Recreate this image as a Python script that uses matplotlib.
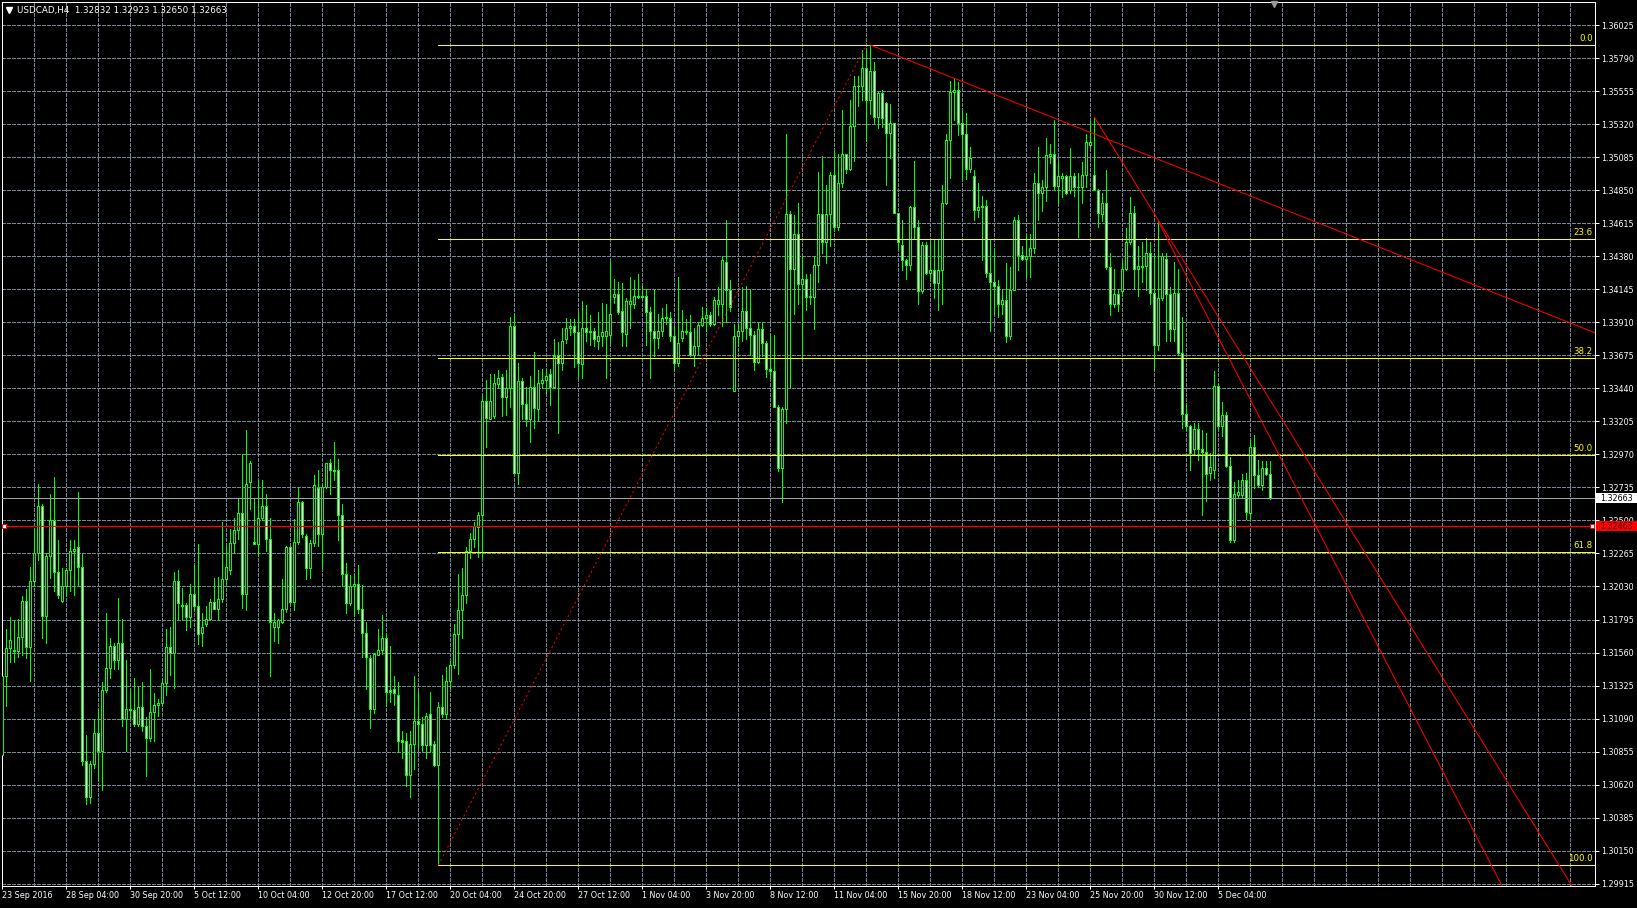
import numpy as np
import matplotlib
matplotlib.use("Agg")
import matplotlib.pyplot as plt
from matplotlib.transforms import blended_transform_factory
from matplotlib.patches import Rectangle
from matplotlib.lines import Line2D

# ---------------- data ----------------
symbol = "USDCAD,H4"

open_ = [
    1.3083, 1.3139, 1.3159, 1.3158, 1.3157, 1.3167, 1.3193, 1.3160, 1.3207, 1.3227,
    1.3260, 1.3182, 1.3225, 1.3250, 1.3213, 1.3193, 1.3203, 1.3215, 1.3228, 1.3231,
    1.3217, 1.3079, 1.3053, 1.3077, 1.3099, 1.3086, 1.3129, 1.3145, 1.3161, 1.3151,
    1.3163, 1.3109, 1.3116, 1.3115, 1.3105, 1.3117, 1.3104, 1.3095, 1.3114, 1.3119,
    1.3120, 1.3134, 1.3160, 1.3156, 1.3207, 1.3190, 1.3190, 1.3181, 1.3198, 1.3189,
    1.3170, 1.3176, 1.3180, 1.3192, 1.3187, 1.3194, 1.3208, 1.3215, 1.3234, 1.3243,
    1.3255, 1.3198, 1.3277, 1.3235, 1.3233, 1.3252, 1.3260, 1.3237, 1.3174, 1.3174,
    1.3178, 1.3187, 1.3231, 1.3192, 1.3235, 1.3263, 1.3239, 1.3216, 1.3234, 1.3273,
    1.3240, 1.3274, 1.3291, 1.3286, 1.3286, 1.3254, 1.3212, 1.3191, 1.3203, 1.3205,
    1.3187, 1.3170, 1.3152, 1.3116, 1.3154, 1.3158, 1.3166, 1.3129, 1.3130, 1.3126,
    1.3094, 1.3093, 1.3069, 1.3091, 1.3107, 1.3105, 1.3090, 1.3112, 1.3091, 1.3076,
    1.3117, 1.3112, 1.3136, 1.3147, 1.3169, 1.3186, 1.3197, 1.3228, 1.3237, 1.3245,
    1.3254, 1.3335, 1.3322, 1.3324, 1.3347, 1.3352, 1.3338, 1.3344, 1.3388, 1.3284,
    1.3349, 1.3333, 1.3322, 1.3345, 1.3329, 1.3348, 1.3350, 1.3354, 1.3345, 1.3368,
    1.3362, 1.3379, 1.3387, 1.3388, 1.3384, 1.3361, 1.3387, 1.3385, 1.3385, 1.3378,
    1.3381, 1.3381, 1.3382, 1.3409, 1.3411, 1.3399, 1.3383, 1.3404, 1.3404, 1.3410,
    1.3409, 1.3410, 1.3398, 1.3385, 1.3380, 1.3385, 1.3394, 1.3394, 1.3381, 1.3362,
    1.3380, 1.3384, 1.3384, 1.3368, 1.3374, 1.3389, 1.3394, 1.3396, 1.3390, 1.3404,
    1.3404, 1.3434, 1.3414, 1.3342, 1.3381, 1.3385, 1.3399, 1.3387, 1.3382, 1.3363,
    1.3386, 1.3376, 1.3358, 1.3356, 1.3331, 1.3287, 1.3329, 1.3468, 1.3429, 1.3454,
    1.3418, 1.3422, 1.3409, 1.3409, 1.3432, 1.3468, 1.3448, 1.3468, 1.3496, 1.3459,
    1.3490, 1.3511, 1.3500, 1.3531, 1.3559, 1.3559, 1.3572, 1.3549, 1.3570, 1.3537,
    1.3554, 1.3547, 1.3526, 1.3533, 1.3469, 1.3446, 1.3435, 1.3432, 1.3473, 1.3459,
    1.3413, 1.3446, 1.3426, 1.3428, 1.3419, 1.3428, 1.3476, 1.3521, 1.3555, 1.3556,
    1.3533, 1.3525, 1.3500, 1.3495, 1.3471, 1.3473, 1.3474, 1.3426, 1.3420, 1.3417,
    1.3404, 1.3407, 1.3381, 1.3414, 1.3464, 1.3439, 1.3436, 1.3438, 1.3444, 1.3490,
    1.3483, 1.3487, 1.3509, 1.3511, 1.3488, 1.3494, 1.3495, 1.3485, 1.3495, 1.3487,
    1.3487, 1.3496, 1.3517, 1.3496, 1.3485, 1.3468, 1.3476, 1.3430, 1.3404, 1.3411,
    1.3413, 1.3429, 1.3448, 1.3469, 1.3429, 1.3430, 1.3431, 1.3440, 1.3412, 1.3375,
    1.3408, 1.3436, 1.3411, 1.3386, 1.3412, 1.3369, 1.3326, 1.3317, 1.3301, 1.3315,
    1.3301, 1.3299, 1.3284, 1.3286, 1.3346, 1.3317, 1.3325, 1.3289, 1.3236, 1.3268,
    1.3268, 1.3279, 1.3255, 1.3302, 1.3282, 1.3275, 1.3287, 1.32832,
]

high = [
    1.3144, 1.3173, 1.3181, 1.3179, 1.3180, 1.3196, 1.3201, 1.3217, 1.3244, 1.3276,
    1.3262, 1.3227, 1.3269, 1.3281, 1.3236, 1.3216, 1.3216, 1.3236, 1.3236, 1.3270,
    1.3226, 1.3097, 1.3079, 1.3109, 1.3116, 1.3135, 1.3184, 1.3166, 1.3163, 1.3195,
    1.3180, 1.3151, 1.3129, 1.3138, 1.3132, 1.3135, 1.3110, 1.3144, 1.3127, 1.3123,
    1.3137, 1.3173, 1.3174, 1.3213, 1.3215, 1.3202, 1.3191, 1.3205, 1.3218, 1.3233,
    1.3184, 1.3189, 1.3194, 1.3209, 1.3210, 1.3249, 1.3232, 1.3244, 1.3252, 1.3265,
    1.3297, 1.3314, 1.3292, 1.3265, 1.3279, 1.3279, 1.3269, 1.3252, 1.3184, 1.3180,
    1.3208, 1.3232, 1.3232, 1.3251, 1.3273, 1.3264, 1.3240, 1.3236, 1.3282, 1.3286,
    1.3275, 1.3291, 1.3294, 1.3306, 1.3294, 1.3262, 1.3220, 1.3211, 1.3212, 1.3218,
    1.3204, 1.3178, 1.3154, 1.3156, 1.3173, 1.3183, 1.3170, 1.3161, 1.3139, 1.3135,
    1.3100, 1.3099, 1.3100, 1.3139, 1.3128, 1.3110, 1.3113, 1.3128, 1.3093, 1.3121,
    1.3140, 1.3146, 1.3150, 1.3176, 1.3212, 1.3216, 1.3231, 1.3241, 1.3249, 1.3256,
    1.3339, 1.3350, 1.3354, 1.3354, 1.3357, 1.3354, 1.3357, 1.3395, 1.3397, 1.3362,
    1.3351, 1.3345, 1.3353, 1.3370, 1.3357, 1.3358, 1.3357, 1.3358, 1.3379, 1.3377,
    1.3387, 1.3394, 1.3393, 1.3393, 1.3398, 1.3406, 1.3403, 1.3396, 1.3387, 1.3398,
    1.3405, 1.3404, 1.3434, 1.3422, 1.3420, 1.3419, 1.3408, 1.3423, 1.3421, 1.3425,
    1.3417, 1.3415, 1.3402, 1.3414, 1.3397, 1.3401, 1.3404, 1.3398, 1.3388, 1.3423,
    1.3400, 1.3393, 1.3396, 1.3387, 1.3391, 1.3402, 1.3401, 1.3398, 1.3409, 1.3416,
    1.3438, 1.3464, 1.3421, 1.3390, 1.3390, 1.3416, 1.3417, 1.3414, 1.3385, 1.3391,
    1.3391, 1.3378, 1.3383, 1.3382, 1.3332, 1.3331, 1.3525, 1.3470, 1.3467, 1.3476,
    1.3438, 1.3425, 1.3425, 1.3438, 1.3498, 1.3509, 1.3489, 1.3498, 1.3513, 1.3511,
    1.3542, 1.3511, 1.3549, 1.3566, 1.3566, 1.3585, 1.3586, 1.35883, 1.3576, 1.3555,
    1.3556, 1.3548, 1.3546, 1.3533, 1.3469, 1.3464, 1.3436, 1.3474, 1.3506, 1.3464,
    1.3448, 1.3448, 1.3448, 1.3450, 1.3450, 1.3489, 1.3525, 1.3563, 1.3564, 1.3562,
    1.3541, 1.3540, 1.3516, 1.3499, 1.3490, 1.3481, 1.3478, 1.3450, 1.3443, 1.3421,
    1.3415, 1.3433, 1.3430, 1.3466, 1.3467, 1.3445, 1.3454, 1.3454, 1.3497, 1.3516,
    1.3492, 1.3522, 1.3518, 1.3535, 1.3505, 1.3497, 1.3496, 1.3515, 1.3497, 1.3497,
    1.3505, 1.3525, 1.3534, 1.3537, 1.3486, 1.3483, 1.3499, 1.3440, 1.3429, 1.3414,
    1.3435, 1.3458, 1.3480, 1.3474, 1.3445, 1.3448, 1.3451, 1.3448, 1.3440, 1.3463,
    1.3440, 1.3440, 1.3416, 1.3434, 1.3429, 1.3395, 1.3332, 1.3318, 1.3319, 1.3319,
    1.3314, 1.3312, 1.3298, 1.3356, 1.3348, 1.3334, 1.3327, 1.3295, 1.3277, 1.3279,
    1.3283, 1.3284, 1.3307, 1.3311, 1.3293, 1.3292, 1.3292, 1.32923,
]

low = [
    1.3028, 1.3118, 1.3149, 1.3149, 1.3153, 1.3154, 1.3152, 1.3136, 1.3203, 1.3222,
    1.3166, 1.3163, 1.3209, 1.3200, 1.3195, 1.3192, 1.3197, 1.3200, 1.3197, 1.3203,
    1.3076, 1.3048, 1.3049, 1.3074, 1.3065, 1.3058, 1.3128, 1.3138, 1.3144, 1.3144,
    1.3104, 1.3086, 1.3109, 1.3104, 1.3104, 1.3100, 1.3068, 1.3093, 1.3093, 1.3111,
    1.3119, 1.3126, 1.3140, 1.3131, 1.3180, 1.3179, 1.3172, 1.3174, 1.3186, 1.3162,
    1.3161, 1.3175, 1.3179, 1.3187, 1.3180, 1.3192, 1.3205, 1.3212, 1.3227, 1.3237,
    1.3188, 1.3186, 1.3258, 1.3233, 1.3225, 1.3250, 1.3228, 1.3139, 1.3164, 1.3163,
    1.3177, 1.3185, 1.3191, 1.3186, 1.3233, 1.3238, 1.3208, 1.3209, 1.3232, 1.3232,
    1.3216, 1.3273, 1.3269, 1.3279, 1.3236, 1.3203, 1.3184, 1.3190, 1.3182, 1.3184,
    1.3153, 1.3130, 1.3102, 1.3113, 1.3154, 1.3155, 1.3118, 1.3121, 1.3119, 1.3085,
    1.3081, 1.3061, 1.3053, 1.3073, 1.3088, 1.3086, 1.3081, 1.3085, 1.3075, 1.30047,
    1.3110, 1.3109, 1.3131, 1.3145, 1.3141, 1.3166, 1.3191, 1.3223, 1.3231, 1.3224,
    1.3224, 1.3302, 1.3322, 1.3323, 1.3345, 1.3324, 1.3325, 1.3331, 1.3284, 1.3276,
    1.3322, 1.3317, 1.3306, 1.3316, 1.3321, 1.3344, 1.3341, 1.3332, 1.3344, 1.3312,
    1.3357, 1.3376, 1.3382, 1.3359, 1.3351, 1.3351, 1.3378, 1.3375, 1.3374, 1.3372,
    1.3374, 1.3351, 1.3377, 1.3405, 1.3397, 1.3374, 1.3374, 1.3387, 1.3401, 1.3408,
    1.3408, 1.3375, 1.3351, 1.3367, 1.3373, 1.3381, 1.3390, 1.3378, 1.3357, 1.3360,
    1.3378, 1.3383, 1.3367, 1.3360, 1.3368, 1.3388, 1.3385, 1.3388, 1.3389, 1.3396,
    1.3388, 1.3391, 1.3399, 1.3342, 1.3374, 1.3378, 1.3379, 1.3368, 1.3357, 1.3362,
    1.3367, 1.3352, 1.3351, 1.3331, 1.3285, 1.3263, 1.3319, 1.3344, 1.3397, 1.3404,
    1.3366, 1.3400, 1.3404, 1.3386, 1.3420, 1.3440, 1.3433, 1.3445, 1.3456, 1.3457,
    1.3487, 1.3497, 1.3499, 1.3506, 1.3545, 1.3549, 1.3520, 1.3539, 1.3533, 1.3529,
    1.3530, 1.3489, 1.3508, 1.3469, 1.3443, 1.3428, 1.3422, 1.3428, 1.3450, 1.3404,
    1.3412, 1.3425, 1.3421, 1.3408, 1.3400, 1.3404, 1.3475, 1.3494, 1.3535, 1.3524,
    1.3493, 1.3493, 1.3498, 1.3464, 1.3466, 1.3435, 1.3423, 1.3385, 1.3397, 1.3395,
    1.3397, 1.3377, 1.3379, 1.3414, 1.3428, 1.3435, 1.3423, 1.3423, 1.3440, 1.3464,
    1.3470, 1.3477, 1.3504, 1.3485, 1.3476, 1.3480, 1.3482, 1.3483, 1.3481, 1.3452,
    1.3476, 1.3487, 1.3516, 1.3485, 1.3459, 1.3463, 1.3429, 1.3396, 1.3402, 1.3399,
    1.3410, 1.3428, 1.3447, 1.3415, 1.3410, 1.3420, 1.3414, 1.3404, 1.3357, 1.3371,
    1.3407, 1.3378, 1.3378, 1.3378, 1.3368, 1.3316, 1.3314, 1.3286, 1.3298, 1.3293,
    1.3254, 1.3264, 1.3279, 1.3280, 1.3316, 1.3310, 1.3288, 1.3235, 1.3235, 1.3267,
    1.3266, 1.3251, 1.3251, 1.3273, 1.3274, 1.3272, 1.3282, 1.32650,
]

close = [
    1.3139, 1.3159, 1.3165, 1.3157, 1.3167, 1.3193, 1.3160, 1.3207, 1.3227, 1.3260,
    1.3182, 1.3225, 1.3250, 1.3213, 1.3197, 1.3203, 1.3215, 1.3228, 1.3230, 1.3217,
    1.3079, 1.3053, 1.3077, 1.3099, 1.3086, 1.3129, 1.3145, 1.3161, 1.3151, 1.3163,
    1.3109, 1.3116, 1.3115, 1.3105, 1.3117, 1.3104, 1.3095, 1.3114, 1.3119, 1.3120,
    1.3134, 1.3160, 1.3156, 1.3207, 1.3191, 1.3189, 1.3181, 1.3198, 1.3189, 1.3169,
    1.3174, 1.3180, 1.3192, 1.3187, 1.3194, 1.3208, 1.3217, 1.3234, 1.3243, 1.3255,
    1.3198, 1.3276, 1.3291, 1.3233, 1.3252, 1.3260, 1.3237, 1.3178, 1.3178, 1.3179,
    1.3187, 1.3231, 1.3192, 1.3235, 1.3263, 1.3240, 1.3216, 1.3234, 1.3275, 1.3240,
    1.3274, 1.3291, 1.3286, 1.3285, 1.3254, 1.3212, 1.3191, 1.3203, 1.3205, 1.3187,
    1.3170, 1.3153, 1.3116, 1.3155, 1.3158, 1.3166, 1.3128, 1.3128, 1.3127, 1.3093,
    1.3092, 1.3069, 1.3091, 1.3107, 1.3105, 1.3090, 1.3111, 1.3090, 1.3076, 1.3117,
    1.3112, 1.3136, 1.3147, 1.3169, 1.3186, 1.3197, 1.3228, 1.3237, 1.3246, 1.3254,
    1.3335, 1.3323, 1.3335, 1.3348, 1.3351, 1.3338, 1.3344, 1.3388, 1.3284, 1.3349,
    1.3333, 1.3322, 1.3345, 1.3330, 1.3348, 1.3350, 1.3353, 1.3345, 1.3367, 1.3362,
    1.3378, 1.3387, 1.3388, 1.3384, 1.3362, 1.3387, 1.3384, 1.3384, 1.3379, 1.3381,
    1.3384, 1.3385, 1.3397, 1.3411, 1.3398, 1.3384, 1.3406, 1.3406, 1.3410, 1.3409,
    1.3410, 1.3398, 1.3385, 1.3380, 1.3385, 1.3394, 1.3395, 1.3381, 1.3362, 1.3376,
    1.3385, 1.3385, 1.3368, 1.3374, 1.3389, 1.3394, 1.3396, 1.3390, 1.3407, 1.3407,
    1.3435, 1.3414, 1.3402, 1.3381, 1.3385, 1.3399, 1.3387, 1.3382, 1.3363, 1.3386,
    1.3376, 1.3358, 1.3356, 1.3331, 1.3287, 1.3329, 1.3468, 1.3429, 1.3454, 1.3418,
    1.3422, 1.3409, 1.3410, 1.3432, 1.3468, 1.3448, 1.3468, 1.3496, 1.3459, 1.3490,
    1.3511, 1.3500, 1.3531, 1.3559, 1.3559, 1.3572, 1.3549, 1.3570, 1.3537, 1.3554,
    1.3536, 1.3526, 1.3533, 1.3469, 1.3448, 1.3435, 1.3432, 1.3473, 1.3459, 1.3413,
    1.3446, 1.3426, 1.3428, 1.3419, 1.3428, 1.3476, 1.3521, 1.3555, 1.3556, 1.3533,
    1.3525, 1.3500, 1.3508, 1.3471, 1.3473, 1.3474, 1.3426, 1.3420, 1.3417, 1.3404,
    1.3407, 1.3381, 1.3414, 1.3464, 1.3439, 1.3436, 1.3438, 1.3444, 1.3490, 1.3483,
    1.3487, 1.3510, 1.3511, 1.3488, 1.3495, 1.3495, 1.3483, 1.3495, 1.3487, 1.3487,
    1.3496, 1.3519, 1.3519, 1.3485, 1.3469, 1.3476, 1.3430, 1.3404, 1.3411, 1.3404,
    1.3429, 1.3448, 1.3469, 1.3429, 1.3431, 1.3431, 1.3440, 1.3412, 1.3375, 1.3408,
    1.3438, 1.3411, 1.3386, 1.3412, 1.3369, 1.3326, 1.3317, 1.3298, 1.3315, 1.3301,
    1.3299, 1.3283, 1.3288, 1.3346, 1.3317, 1.3325, 1.3289, 1.3236, 1.3269, 1.3270,
    1.3279, 1.3256, 1.3302, 1.3282, 1.3275, 1.3287, 1.3283, 1.32663,
]

date_labels = [
    "23 Sep 2016", "28 Sep 04:00", "30 Sep 20:00", "5 Oct 12:00", "10 Oct 04:00",
    "12 Oct 20:00", "17 Oct 12:00", "20 Oct 04:00", "24 Oct 20:00", "27 Oct 12:00",
    "1 Nov 04:00", "3 Nov 20:00", "8 Nov 12:00", "11 Nov 04:00", "15 Nov 20:00",
    "18 Nov 12:00", "23 Nov 04:00", "25 Nov 20:00", "30 Nov 12:00", "5 Dec 04:00",
]
label_every = 16          # bars between date labels
grid_every = 8            # bars between vertical grid lines

price_tick_first = 1.29915
price_tick_step = 0.00235
price_tick_count = 27
price_min, price_max = 1.29901, 1.36191

# Fibonacci retracement anchors (bar index, price)
fib_low_bar, fib_low = 109, 1.30047
fib_high_bar, fib_high = 216, 1.35883
fib_levels = [0.0, 23.6, 38.2, 50.0, 61.8, 100.0]

# trend line rays: two anchor points each (bar index, price)
trend_lines = [
    ((217, 1.35883), (263, 1.35363)),
    ((273, 1.35370), (289, 1.34637)),
    ((289, 1.34626), (319.4, 1.32954)),
]

hline_price = 1.32463     # red horizontal line
bid_price = 1.32663       # current bid

# ---------------- style / geometry ----------------
W, H, DPI = 1637, 908, 100
PX = 72.0 / DPI            # one pixel in points
GREEN = "#00FF00"
YELLOW = "#FFFF00"
RED = "#FF0000"
GRIDC = "#778899"
BIDC = "#9AA3AD"
FS = 5.8

plt.rcParams["font.family"] = ["DejaVu Sans"]

o = np.array(open_)
hi = np.array(high)
lo = np.array(low)
c = np.array(close)
n = len(c)
xb = np.arange(n)

ax_left, ax_top, ax_right, ax_bottom = 1.7, 1.7, 1594.7, 885.7   # plot frame in pixels
bar_px, first_bar_px = 4.0, 2.3
x_lo = (ax_left - first_bar_px) / bar_px
x_hi = (ax_right - first_bar_px) / bar_px

fig = plt.figure(figsize=(W / DPI, H / DPI), dpi=DPI, facecolor="black")
ax = fig.add_axes([ax_left / W, 1 - ax_bottom / H,
                   (ax_right - ax_left) / W, (ax_bottom - ax_top) / H])
ax.set_facecolor("black")
ax.set_xlim(x_lo, x_hi)
ax.set_ylim(price_min, price_max)
ax.autoscale(False)

# grid
price_ticks = price_tick_first + price_tick_step * np.arange(price_tick_count)
ax.hlines(price_ticks, x_lo, x_hi, colors=GRIDC, linewidth=PX,
          linestyles=(0, (3, 2)), antialiased=False, zorder=0.5)
vgrid = np.arange(grid_every, x_hi, grid_every)
ax.vlines(vgrid, price_min, price_max, colors=GRIDC, linewidth=PX,
          linestyles=(0, (3, 2)), antialiased=False, zorder=0.5)

# candles
ax.vlines(xb, lo, hi, colors=GREEN, linewidth=PX, antialiased=False, zorder=2)
up = c >= o
ax.bar(xb, np.abs(c - o), bottom=np.minimum(o, c), width=0.5,
       color=np.where(up, "black", "white"), edgecolor=GREEN,
       linewidth=PX, antialiased=False, zorder=3)

# fibonacci
fib_prices = [fib_high - lv / 100.0 * (fib_high - fib_low) for lv in fib_levels]
ax.hlines(fib_prices, fib_low_bar, x_hi, colors=YELLOW, linewidth=PX,
          antialiased=False, zorder=5)
ax.plot([fib_low_bar, fib_high_bar], [fib_low, fib_high], color=RED,
        linewidth=PX, linestyle=(0, (2, 3)), zorder=5)
ytr = ax.get_yaxis_transform()
for lv, p in zip(fib_levels, fib_prices):
    ax.annotate(f"{lv:.1f}", xy=(1.0, p), xycoords=ytr, xytext=(-2, 2),
                textcoords="offset pixels", ha="right", va="bottom",
                color=YELLOW, fontsize=6.2, zorder=6)

# trend lines (rays to the right edge)
for (xa, ya), (xc, yc) in trend_lines:
    slope = (yc - ya) / (xc - xa)
    ax.plot([xa, x_hi], [ya, ya + slope * (x_hi - xa)], color=RED,
            linewidth=PX, antialiased=True, zorder=5)

# horizontal lines
ax.axhline(bid_price, color=BIDC, linewidth=PX, zorder=4)
ax.axhline(hline_price, color=RED, linewidth=PX * 1.2, zorder=6)
ax.plot([0.0016, 0.998], [hline_price, hline_price], transform=ytr,
        linestyle="none", marker="s", markersize=3.2, markerfacecolor="white",
        markeredgecolor=RED, markeredgewidth=PX, zorder=7, clip_on=False)

# frame
for sp in ax.spines.values():
    sp.set_color("white")
    sp.set_linewidth(PX)

# ticks
ax.yaxis.set_ticks_position("right")
ax.set_yticks(price_ticks)
ax.set_yticklabels([f"{p:.5f}" for p in price_ticks])
ax.tick_params(axis="y", colors="white", length=4 * PX, width=PX,
               pad=2 * PX, labelsize=FS)
xt = np.arange(len(date_labels)) * label_every
ax.set_xticks(xt)
ax.set_xticklabels(date_labels, ha="left")
ax.tick_params(axis="x", colors="white", length=3 * PX, width=PX,
               pad=2 * PX, labelsize=FS)

# price boxes on the right scale
blend = blended_transform_factory(fig.transFigure, ax.transData)
box_h = 10 * (price_max - price_min) / (ax_bottom - ax_top)
for price, fc, tc in [(bid_price, "white", "black"), (hline_price, RED, "#3a0000")]:
    fig.add_artist(Rectangle((1596 / W, price - box_h / 2), 41 / W, box_h,
                             transform=blend, facecolor=fc, edgecolor="none",
                             zorder=20))
    fig.text(1600.5 / W, price, f"{price:.5f}", transform=blend, color=tc,
             fontsize=FS, va="center_baseline", ha="left", zorder=21)

# title
title = f"{symbol}  {o[-1]:.5f} {hi[-1]:.5f} {lo[-1]:.5f} {c[-1]:.5f}"
fig.text(17 / W, 1 - 10 / H, title, color="white", fontsize=6.3,
         va="center", ha="left")
fig.add_artist(Line2D([8.5 / W], [1 - 9.5 / H], transform=fig.transFigure,
                      marker="v", markersize=4.2, color="white",
                      linestyle="none"))
fig.add_artist(Line2D([1274 / W], [1 - 4 / H], transform=fig.transFigure,
                      marker="v", markersize=4.5, color="#9a9a9a",
                      linestyle="none"))

fig.savefig("out.png", dpi=DPI, facecolor="black")
